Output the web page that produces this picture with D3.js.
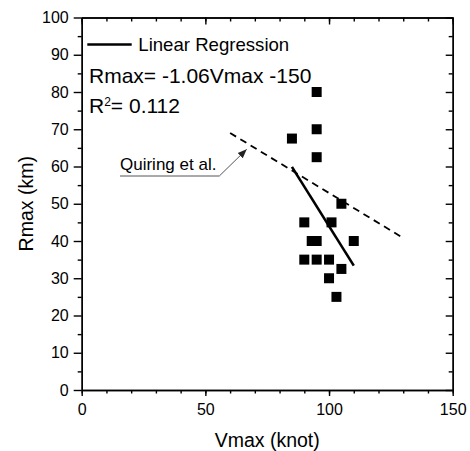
<!DOCTYPE html>
<html>
<head>
<meta charset="utf-8">
<script src="https://cdn.jsdelivr.net/npm/d3@7"></script>
<style>
    body { margin: 0; background: #fff; }
    svg { display: block; font-family: "Liberation Sans", Arial, sans-serif; }
    .axis path, .axis line { stroke: #000; stroke-width: 1.4px; }
    .axis text { font-size: 16px; fill: #000; font-family: "Liberation Sans", Arial, sans-serif; }
</style>
</head>
<body>
<svg id="chart" width="470" height="451"></svg>
<script>
// observed storms
const vmax = [95, 95, 85, 95, 105, 90, 101, 93, 95, 110, 90, 95, 100, 105, 100, 103]
const rmax = [80, 70, 67.5, 62.5, 50, 45, 45, 40, 40, 40, 35, 35, 35, 32.5, 30, 25]

// fitted line: Rmax = slope * Vmax + intercept
const regSlope = -1.06
const regIntercept = 150
const regV = [85, 110]

// Quiring et al. relation (dashed)
const quiringV = [60, 130]
const quiringR = [69, 40.8]

const xMajor = [0, 50, 100, 150]
const xMinor = d3.range(0, 151, 10)
const yMajor = d3.range(0, 101, 10)
const yMinor = d3.range(5, 100, 10)

const xScale = d3.scaleLinear().domain([0, 150]).range([81.7, 452.7])
const yScale = d3.scaleLinear().domain([0, 100]).range([390, 17.5])

const svg = d3.select('#chart')

// minor ticks first, majors on top
svg.append('g').classed('axis', true)
    .attr('transform', 'translate(0,390)')
    .call(d3.axisBottom(xScale).tickValues(xMinor).tickSize(3.5).tickSizeOuter(0).tickFormat(''))
svg.append('g').classed('axis', true)
    .attr('transform', 'translate(0,390)')
    .call(d3.axisBottom(xScale).tickValues(xMajor).tickSize(6).tickSizeOuter(0).tickPadding(8).tickFormat(d3.format('d')))

svg.append('g').classed('axis', true)
    .attr('transform', 'translate(0,17.5)')
    .call(d3.axisTop(xScale).tickValues(xMinor).tickSize(-4).tickSizeOuter(0).tickFormat(''))
svg.append('g').classed('axis', true)
    .attr('transform', 'translate(0,17.5)')
    .call(d3.axisTop(xScale).tickValues(xMajor).tickSize(-7).tickSizeOuter(0).tickFormat(''))

svg.append('g').classed('axis', true)
    .attr('transform', 'translate(81.7,0)')
    .call(d3.axisLeft(yScale).tickValues(yMinor).tickSize(4).tickSizeOuter(0).tickFormat(''))
svg.append('g').classed('axis', true)
    .attr('transform', 'translate(81.7,0)')
    .call(d3.axisLeft(yScale).tickValues(yMajor).tickSize(8).tickSizeOuter(0).tickPadding(5).tickFormat(d3.format('d')))

svg.append('g').classed('axis', true)
    .attr('transform', 'translate(452.7,0)')
    .call(d3.axisRight(yScale).tickValues(yMinor).tickSize(-4).tickSizeOuter(0).tickFormat(''))
svg.append('g').classed('axis', true)
    .attr('transform', 'translate(452.7,0)')
    .call(d3.axisRight(yScale).tickValues(yMajor).tickSize(-7).tickSizeOuter(0).tickFormat(''))

// axis titles
svg.append('text')
    .attr('x', (xScale(0) + xScale(150)) / 2)
    .attr('y', 446.5)
    .attr('text-anchor', 'middle')
    .style('font-size', '19.5px')
    .text('Vmax (knot)')

svg.append('text')
    .attr('transform', 'translate(33.3,' + (yScale(0) + yScale(100)) / 2 + ') rotate(-90)')
    .attr('text-anchor', 'middle')
    .style('font-size', '19.5px')
    .text('Rmax (km)')

// Quiring et al. dashed line
const line = d3.line().x(d => xScale(d[0])).y(d => yScale(d[1]))

svg.append('path')
    .datum(d3.zip(quiringV, quiringR))
    .attr('d', line)
    .attr('fill', 'none')
    .attr('stroke', '#000')
    .attr('stroke-width', 1.8)
    .attr('stroke-dasharray', '7,5')

// data points
const size = 10
svg.selectAll('.pt')
    .data(d3.zip(vmax, rmax))
    .enter()
    .append('rect')
    .classed('pt', true)
    .attr('x', d => xScale(d[0]) - size / 2)
    .attr('y', d => yScale(d[1]) - size / 2)
    .attr('width', size)
    .attr('height', size)
    .attr('fill', '#000')

// regression line
svg.append('path')
    .datum(regV.map(v => [v, regSlope * v + regIntercept]))
    .attr('d', line)
    .attr('fill', 'none')
    .attr('stroke', '#000')
    .attr('stroke-width', 2.6)

// annotation for Quiring et al.
svg.append('defs').append('marker')
    .attr('id', 'arrow')
    .attr('viewBox', '0 0 10 10')
    .attr('refX', 10)
    .attr('refY', 5)
    .attr('markerWidth', 9)
    .attr('markerHeight', 9)
    .attr('markerUnits', 'userSpaceOnUse')
    .attr('orient', 'auto')
    .append('path')
    .attr('d', 'M0,1 L10,5 L0,9 Z')
    .attr('fill', '#222')

svg.append('text')
    .attr('x', 120)
    .attr('y', 170)
    .style('font-size', '17px')
    .text('Quiring et al.')

svg.append('polyline')
    .attr('points', [[120, 176], [219.3, 176], [246.7, 149.3]].join(' '))
    .attr('fill', 'none')
    .attr('stroke', '#555')
    .attr('stroke-width', 1)
    .attr('marker-end', 'url(#arrow)')

// legend and equation
svg.append('line')
    .attr('x1', 87.3).attr('x2', 131.7)
    .attr('y1', 44.5).attr('y2', 44.5)
    .attr('stroke', '#000')
    .attr('stroke-width', 2.6)

svg.append('text')
    .attr('x', 138.3)
    .attr('y', 50.7)
    .style('font-size', '18.6px')
    .text('Linear Regression')

svg.append('text')
    .attr('x', 89)
    .attr('y', 83.3)
    .style('font-size', '21px')
    .text('Rmax= -1.06Vmax -150')

const r2 = svg.append('text')
    .attr('x', 89)
    .attr('y', 112.7)
    .style('font-size', '21px')
r2.append('tspan').text('R')
r2.append('tspan').attr('dy', -7).style('font-size', '12px').text('2')
r2.append('tspan').attr('dy', 7).text('= 0.112')
</script>
</body>
</html>
